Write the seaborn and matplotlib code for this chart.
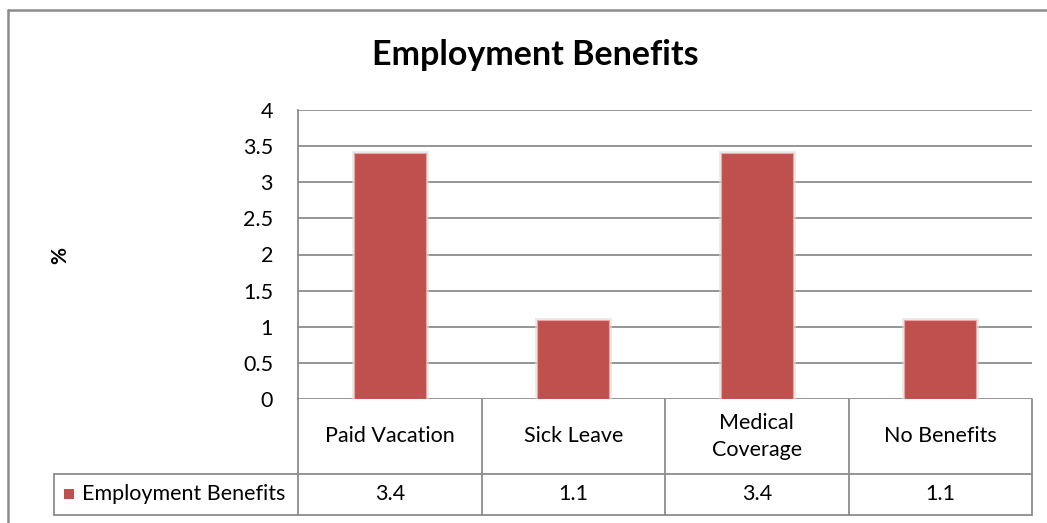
import matplotlib
matplotlib.use("Agg")
import matplotlib.pyplot as plt
import matplotlib.patheffects as pe
import matplotlib.transforms as mtransforms
from matplotlib.lines import Line2D
from matplotlib.patches import Rectangle
import seaborn as sns
import pandas as pd

# Data
categories = ["Paid Vacation", "Sick Leave", "Medical Coverage", "No Benefits"]
header_labels = ["Paid Vacation", "Sick Leave", "Medical\nCoverage", "No Benefits"]
values = [3.4, 1.1, 3.4, 1.1]
value_labels = ["3.4", "1.1", "3.4", "1.1"]
series_name = "Employment Benefits"
y_ticks = [0, 0.5, 1, 1.5, 2, 2.5, 3, 3.5, 4]
y_tick_labels = ["0", "0.5", "1", "1.5", "2", "2.5", "3", "3.5", "4"]

sns.set_theme(style="white")
plt.rcParams["font.family"] = ["Lato", "DejaVu Sans"]

W, H = 1047, 523
fig = plt.figure(figsize=(W / 100, H / 100), dpi=100)

def fx(px):
    return px / W

def fy(py):
    return 1 - py / H

FS = 15.5

# plot area in pixel coordinates
left, right, top, bottom = 298, 1032, 110, 399
ax = fig.add_axes([fx(left), fy(bottom), fx(right - left), (bottom - top) / H])

bar_color = "#C0504D"
grid_color = "#8C8C8C"
text_color = "#000000"

df = pd.DataFrame({"category": categories, "value": values})
sns.barplot(data=df, x="category", y="value", color=bar_color, width=0.39,
            saturation=1, ax=ax, zorder=3)
for p in ax.patches:
    p.set_edgecolor("#E8A5A3")
    p.set_linewidth(0.8)
    p.set_path_effects([pe.SimplePatchShadow(offset=(0, 0), shadow_rgbFace="#9a9a9a", alpha=0.35),
                        pe.Stroke(linewidth=3.5, foreground="#dcdcdc", alpha=0.6),
                        pe.Normal()])

ax.set_xlim(-0.5, len(categories) - 0.5)
ax.set_ylim(0, 4)
ax.set_yticks(y_ticks)
ax.set_yticklabels(y_tick_labels, fontsize=FS, color=text_color)
ax.set_xticks([])
ax.set_xlabel("")
ax.set_ylabel("")
ax.tick_params(axis="y", length=0, pad=18)
for t in y_ticks:
    ax.axhline(t, color=grid_color, lw=1.3, zorder=1)
for s in ["top", "right", "bottom"]:
    ax.spines[s].set_visible(False)
ax.spines["left"].set_color(grid_color)
ax.spines["left"].set_linewidth(1.3)

# Title and axis label
fig.text(fx(535), fy(55), "Employment Benefits", ha="center", va="center",
         fontsize=24.5, fontweight="bold", color=text_color)
fig.text(fx(60), fy(255), "%", ha="center", va="center", rotation=90,
         fontsize=15, fontweight="bold", color=text_color)

# Data table below the plot area (x in data units, y in figure units)
trans = mtransforms.blended_transform_factory(ax.transData, fig.transFigure)
row1_top, row1_bot, row2_bot = fy(399), fy(474), fy(515)
n = len(categories)
lc = dict(color=grid_color, lw=1.3, clip_on=False)

# horizontal rules
fig.add_artist(Line2D([-0.5, n - 0.5], [row1_bot, row1_bot], transform=trans, **lc))
fig.add_artist(Line2D([-0.5, n - 0.5], [row2_bot, row2_bot], transform=trans, **lc))
# vertical rules
for i in range(n + 1):
    fig.add_artist(Line2D([i - 0.5, i - 0.5], [row2_bot, row1_top], transform=trans, **lc))

# legend cell
fig.add_artist(Line2D([fx(54), fx(298)], [row1_bot, row1_bot], transform=fig.transFigure, **lc))
fig.add_artist(Line2D([fx(54), fx(298)], [row2_bot, row2_bot], transform=fig.transFigure, **lc))
fig.add_artist(Line2D([fx(54), fx(54)], [row2_bot, row1_bot], transform=fig.transFigure, **lc))
fig.add_artist(Rectangle((fx(64), fy(499)), fx(10), 10 / H, transform=fig.transFigure,
                         facecolor=bar_color, edgecolor="none"))
fig.text(fx(82), (row1_bot + row2_bot) / 2, series_name, ha="left", va="center",
         fontsize=FS, color=text_color)

for i, (lab, val) in enumerate(zip(header_labels, value_labels)):
    fig.text(i, (row1_top + row1_bot) / 2, lab, ha="center", va="center",
             fontsize=FS, color=text_color, transform=trans, linespacing=1.42)
    fig.text(i, (row1_bot + row2_bot) / 2, val, ha="center", va="center",
             fontsize=FS, color=text_color, transform=trans)

# outer chart frame
fig.add_artist(Line2D([fx(8), fx(8)], [fy(10), 0], transform=fig.transFigure,
                      color=grid_color, lw=1.8))
fig.add_artist(Line2D([fx(8), 1], [fy(10), fy(10)], transform=fig.transFigure,
                      color=grid_color, lw=1.8))

fig.savefig("out.png", dpi=100, facecolor="white")
